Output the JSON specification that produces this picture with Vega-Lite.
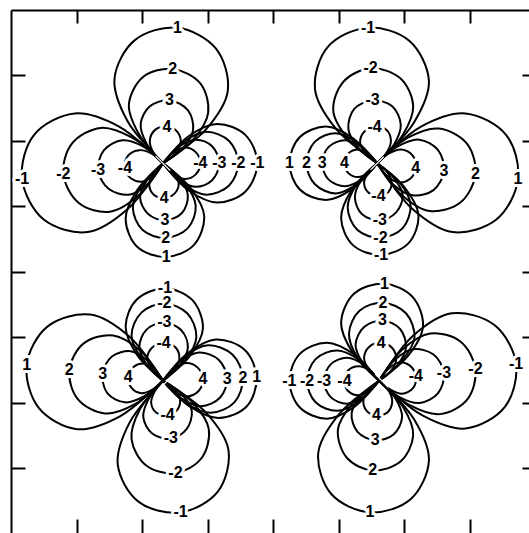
{
  "$schema": "https://vega.github.io/schema/vega-lite/v6.json",
  "width": 518,
  "height": 523,
  "autosize": {"type": "none"},
  "padding": {"left": 11, "top": 10, "right": 0, "bottom": 0},
  "background": "white",
  "config": {
    "view": {"stroke": null},
    "axis": {"grid": false, "labels": false, "title": null, "domainColor": "black", "domainWidth": 2, "tickColor": "black", "tickWidth": 2}
  },
  "data": {"values": [
    {"g":"1t1","i":0,"x":2.32,"y":5.66},{"g":"1t1","i":1,"x":1.78,"y":6.30},{"g":"1t1","i":2,"x":1.58,"y":6.95},{"g":"1t1","i":3,"x":1.89,"y":7.54},{"g":"1t1","i":4,"x":2.54,"y":7.73,"v":"1"},{"g":"1t1","i":5,"x":3.13,"y":7.41},{"g":"1t1","i":6,"x":3.31,"y":6.77},{"g":"1t1","i":7,"x":2.98,"y":6.18},{"g":"1t1","i":8,"x":2.32,"y":5.66},
    {"g":"1t2","i":0,"x":2.32,"y":5.66},{"g":"1t2","i":1,"x":1.95,"y":6.11},{"g":"1t2","i":2,"x":1.80,"y":6.56},{"g":"1t2","i":3,"x":2.02,"y":6.98},{"g":"1t2","i":4,"x":2.47,"y":7.10,"v":"2"},{"g":"1t2","i":5,"x":2.89,"y":6.88},{"g":"1t2","i":6,"x":3.01,"y":6.43},{"g":"1t2","i":7,"x":2.78,"y":6.02},{"g":"1t2","i":8,"x":2.32,"y":5.66},
    {"g":"1t3","i":0,"x":2.32,"y":5.66},{"g":"1t3","i":1,"x":2.07,"y":5.96},{"g":"1t3","i":2,"x":1.98,"y":6.26},{"g":"1t3","i":3,"x":2.12,"y":6.53},{"g":"1t3","i":4,"x":2.42,"y":6.62,"v":"3"},{"g":"1t3","i":5,"x":2.70,"y":6.47},{"g":"1t3","i":6,"x":2.78,"y":6.17},{"g":"1t3","i":7,"x":2.63,"y":5.90},{"g":"1t3","i":8,"x":2.32,"y":5.66},
    {"g":"1t4","i":0,"x":2.32,"y":5.66},{"g":"1t4","i":1,"x":2.17,"y":5.83},{"g":"1t4","i":2,"x":2.12,"y":6.01},{"g":"1t4","i":3,"x":2.20,"y":6.17},{"g":"1t4","i":4,"x":2.38,"y":6.22,"v":"4"},{"g":"1t4","i":5,"x":2.54,"y":6.14},{"g":"1t4","i":6,"x":2.59,"y":5.96},{"g":"1t4","i":7,"x":2.50,"y":5.80},{"g":"1t4","i":8,"x":2.32,"y":5.66},
    {"g":"1l1","i":0,"x":2.32,"y":5.66},{"g":"1l1","i":1,"x":1.79,"y":4.97},{"g":"1l1","i":2,"x":1.17,"y":4.61},{"g":"1l1","i":3,"x":0.50,"y":4.80},{"g":"1l1","i":4,"x":0.17,"y":5.42,"v":"-1"},{"g":"1l1","i":5,"x":0.35,"y":6.09},{"g":"1l1","i":6,"x":0.97,"y":6.42},{"g":"1l1","i":7,"x":1.65,"y":6.22},{"g":"1l1","i":8,"x":2.32,"y":5.66},
    {"g":"1l2","i":0,"x":2.32,"y":5.66},{"g":"1l2","i":1,"x":1.95,"y":5.17},{"g":"1l2","i":2,"x":1.51,"y":4.92},{"g":"1l2","i":3,"x":1.04,"y":5.05},{"g":"1l2","i":4,"x":0.80,"y":5.49,"v":"-2"},{"g":"1l2","i":5,"x":0.93,"y":5.96},{"g":"1l2","i":6,"x":1.37,"y":6.20},{"g":"1l2","i":7,"x":1.85,"y":6.05},{"g":"1l2","i":8,"x":2.32,"y":5.66},
    {"g":"1l3","i":0,"x":2.32,"y":5.66},{"g":"1l3","i":1,"x":2.08,"y":5.34},{"g":"1l3","i":2,"x":1.80,"y":5.18},{"g":"1l3","i":3,"x":1.49,"y":5.27},{"g":"1l3","i":4,"x":1.33,"y":5.55,"v":"-3"},{"g":"1l3","i":5,"x":1.42,"y":5.86},{"g":"1l3","i":6,"x":1.70,"y":6.01},{"g":"1l3","i":7,"x":2.01,"y":5.92},{"g":"1l3","i":8,"x":2.32,"y":5.66},
    {"g":"1l4","i":0,"x":2.32,"y":5.66},{"g":"1l4","i":1,"x":2.18,"y":5.48},{"g":"1l4","i":2,"x":2.01,"y":5.38},{"g":"1l4","i":3,"x":1.83,"y":5.43},{"g":"1l4","i":4,"x":1.74,"y":5.59,"v":"-4"},{"g":"1l4","i":5,"x":1.79,"y":5.78},{"g":"1l4","i":6,"x":1.96,"y":5.86},{"g":"1l4","i":7,"x":2.14,"y":5.81},{"g":"1l4","i":8,"x":2.32,"y":5.66},
    {"g":"1b1","i":0,"x":2.32,"y":5.66},{"g":"1b1","i":1,"x":2.75,"y":5.27},{"g":"1b1","i":2,"x":2.95,"y":4.85},{"g":"1b1","i":3,"x":2.79,"y":4.41},{"g":"1b1","i":4,"x":2.37,"y":4.23,"v":"1"},{"g":"1b1","i":5,"x":1.93,"y":4.38},{"g":"1b1","i":6,"x":1.75,"y":4.81},{"g":"1b1","i":7,"x":1.92,"y":5.24},{"g":"1b1","i":8,"x":2.32,"y":5.66},
    {"g":"1b2","i":0,"x":2.32,"y":5.66},{"g":"1b2","i":1,"x":2.66,"y":5.35},{"g":"1b2","i":2,"x":2.82,"y":5.01},{"g":"1b2","i":3,"x":2.70,"y":4.67},{"g":"1b2","i":4,"x":2.36,"y":4.52,"v":"2"},{"g":"1b2","i":5,"x":2.01,"y":4.64},{"g":"1b2","i":6,"x":1.86,"y":4.98},{"g":"1b2","i":7,"x":2.00,"y":5.33},{"g":"1b2","i":8,"x":2.32,"y":5.66},
    {"g":"1b3","i":0,"x":2.32,"y":5.66},{"g":"1b3","i":1,"x":2.58,"y":5.43},{"g":"1b3","i":2,"x":2.70,"y":5.17},{"g":"1b3","i":3,"x":2.61,"y":4.90},{"g":"1b3","i":4,"x":2.35,"y":4.79,"v":"3"},{"g":"1b3","i":5,"x":2.09,"y":4.89},{"g":"1b3","i":6,"x":1.97,"y":5.14},{"g":"1b3","i":7,"x":2.08,"y":5.41},{"g":"1b3","i":8,"x":2.32,"y":5.66},
    {"g":"1b4","i":0,"x":2.32,"y":5.66},{"g":"1b4","i":1,"x":2.48,"y":5.52},{"g":"1b4","i":2,"x":2.56,"y":5.36},{"g":"1b4","i":3,"x":2.50,"y":5.20},{"g":"1b4","i":4,"x":2.34,"y":5.13,"v":"4"},{"g":"1b4","i":5,"x":2.18,"y":5.18},{"g":"1b4","i":6,"x":2.11,"y":5.34},{"g":"1b4","i":7,"x":2.17,"y":5.50},{"g":"1b4","i":8,"x":2.32,"y":5.66},
    {"g":"1r1","i":0,"x":2.32,"y":5.66},{"g":"1r1","i":1,"x":2.72,"y":6.08},{"g":"1r1","i":2,"x":3.15,"y":6.26},{"g":"1r1","i":3,"x":3.58,"y":6.09},{"g":"1r1","i":4,"x":3.76,"y":5.66,"v":"-1"},{"g":"1r1","i":5,"x":3.58,"y":5.23},{"g":"1r1","i":6,"x":3.15,"y":5.06},{"g":"1r1","i":7,"x":2.72,"y":5.24},{"g":"1r1","i":8,"x":2.32,"y":5.66},
    {"g":"1r2","i":0,"x":2.32,"y":5.66},{"g":"1r2","i":1,"x":2.64,"y":5.99},{"g":"1r2","i":2,"x":2.98,"y":6.14},{"g":"1r2","i":3,"x":3.33,"y":6.00},{"g":"1r2","i":4,"x":3.47,"y":5.66,"v":"-2"},{"g":"1r2","i":5,"x":3.33,"y":5.32},{"g":"1r2","i":6,"x":2.98,"y":5.18},{"g":"1r2","i":7,"x":2.64,"y":5.33},{"g":"1r2","i":8,"x":2.32,"y":5.66},
    {"g":"1r3","i":0,"x":2.32,"y":5.66},{"g":"1r3","i":1,"x":2.56,"y":5.91},{"g":"1r3","i":2,"x":2.82,"y":6.02},{"g":"1r3","i":3,"x":3.07,"y":5.92},{"g":"1r3","i":4,"x":3.18,"y":5.66,"v":"-3"},{"g":"1r3","i":5,"x":3.07,"y":5.40},{"g":"1r3","i":6,"x":2.82,"y":5.30},{"g":"1r3","i":7,"x":2.56,"y":5.41},{"g":"1r3","i":8,"x":2.32,"y":5.66},
    {"g":"1r4","i":0,"x":2.32,"y":5.66},{"g":"1r4","i":1,"x":2.48,"y":5.82},{"g":"1r4","i":2,"x":2.65,"y":5.90},{"g":"1r4","i":3,"x":2.82,"y":5.83},{"g":"1r4","i":4,"x":2.89,"y":5.66,"v":"-4"},{"g":"1r4","i":5,"x":2.82,"y":5.49},{"g":"1r4","i":6,"x":2.65,"y":5.42},{"g":"1r4","i":7,"x":2.48,"y":5.50},{"g":"1r4","i":8,"x":2.32,"y":5.66},

    {"g":"2t1","i":0,"x":5.59,"y":5.66},{"g":"2t1","i":1,"x":4.95,"y":6.20},{"g":"2t1","i":2,"x":4.64,"y":6.80},{"g":"2t1","i":3,"x":4.84,"y":7.44},{"g":"2t1","i":4,"x":5.45,"y":7.73,"v":"-1"},{"g":"2t1","i":5,"x":6.08,"y":7.53},{"g":"2t1","i":6,"x":6.38,"y":6.92},{"g":"2t1","i":7,"x":6.15,"y":6.28},{"g":"2t1","i":8,"x":5.59,"y":5.66},
    {"g":"2t2","i":0,"x":5.59,"y":5.66},{"g":"2t2","i":1,"x":5.14,"y":6.04},{"g":"2t2","i":2,"x":4.92,"y":6.46},{"g":"2t2","i":3,"x":5.07,"y":6.90},{"g":"2t2","i":4,"x":5.49,"y":7.11,"v":"-2"},{"g":"2t2","i":5,"x":5.94,"y":6.96},{"g":"2t2","i":6,"x":6.14,"y":6.54},{"g":"2t2","i":7,"x":5.98,"y":6.09},{"g":"2t2","i":8,"x":5.59,"y":5.66},
    {"g":"2t3","i":0,"x":5.59,"y":5.66},{"g":"2t3","i":1,"x":5.29,"y":5.91},{"g":"2t3","i":2,"x":5.15,"y":6.19},{"g":"2t3","i":3,"x":5.24,"y":6.49},{"g":"2t3","i":4,"x":5.52,"y":6.62,"v":"-3"},{"g":"2t3","i":5,"x":5.82,"y":6.53},{"g":"2t3","i":6,"x":5.95,"y":6.25},{"g":"2t3","i":7,"x":5.85,"y":5.95},{"g":"2t3","i":8,"x":5.59,"y":5.66},
    {"g":"2t4","i":0,"x":5.59,"y":5.66},{"g":"2t4","i":1,"x":5.42,"y":5.81},{"g":"2t4","i":2,"x":5.33,"y":5.97},{"g":"2t4","i":3,"x":5.39,"y":6.14},{"g":"2t4","i":4,"x":5.55,"y":6.22,"v":"-4"},{"g":"2t4","i":5,"x":5.73,"y":6.17},{"g":"2t4","i":6,"x":5.80,"y":6.00},{"g":"2t4","i":7,"x":5.74,"y":5.83},{"g":"2t4","i":8,"x":5.59,"y":5.66},
    {"g":"2r1","i":0,"x":5.59,"y":5.66},{"g":"2r1","i":1,"x":6.26,"y":6.22},{"g":"2r1","i":2,"x":6.94,"y":6.42},{"g":"2r1","i":3,"x":7.56,"y":6.09},{"g":"2r1","i":4,"x":7.74,"y":5.42,"v":"1"},{"g":"2r1","i":5,"x":7.41,"y":4.80},{"g":"2r1","i":6,"x":6.74,"y":4.61},{"g":"2r1","i":7,"x":6.12,"y":4.97},{"g":"2r1","i":8,"x":5.59,"y":5.66},
    {"g":"2r2","i":0,"x":5.59,"y":5.66},{"g":"2r2","i":1,"x":6.06,"y":6.05},{"g":"2r2","i":2,"x":6.53,"y":6.19},{"g":"2r2","i":3,"x":6.96,"y":5.96},{"g":"2r2","i":4,"x":7.09,"y":5.49,"v":"2"},{"g":"2r2","i":5,"x":6.86,"y":5.06},{"g":"2r2","i":6,"x":6.39,"y":4.93},{"g":"2r2","i":7,"x":5.96,"y":5.18},{"g":"2r2","i":8,"x":5.59,"y":5.66},
    {"g":"2r3","i":0,"x":5.59,"y":5.66},{"g":"2r3","i":1,"x":5.91,"y":5.92},{"g":"2r3","i":2,"x":6.23,"y":6.02},{"g":"2r3","i":3,"x":6.52,"y":5.86},{"g":"2r3","i":4,"x":6.61,"y":5.54,"v":"3"},{"g":"2r3","i":5,"x":6.45,"y":5.25},{"g":"2r3","i":6,"x":6.13,"y":5.17},{"g":"2r3","i":7,"x":5.84,"y":5.33},{"g":"2r3","i":8,"x":5.59,"y":5.66},
    {"g":"2r4","i":0,"x":5.59,"y":5.66},{"g":"2r4","i":1,"x":5.77,"y":5.81},{"g":"2r4","i":2,"x":5.96,"y":5.87},{"g":"2r4","i":3,"x":6.13,"y":5.78},{"g":"2r4","i":4,"x":6.18,"y":5.59,"v":"4"},{"g":"2r4","i":5,"x":6.09,"y":5.42},{"g":"2r4","i":6,"x":5.91,"y":5.37},{"g":"2r4","i":7,"x":5.74,"y":5.47},{"g":"2r4","i":8,"x":5.59,"y":5.66},
    {"g":"2l1","i":0,"x":5.59,"y":5.66},{"g":"2l1","i":1,"x":5.21,"y":5.27},{"g":"2l1","i":2,"x":4.81,"y":5.10},{"g":"2l1","i":3,"x":4.41,"y":5.26},{"g":"2l1","i":4,"x":4.25,"y":5.66,"v":"1"},{"g":"2l1","i":5,"x":4.41,"y":6.06},{"g":"2l1","i":6,"x":4.81,"y":6.22},{"g":"2l1","i":7,"x":5.21,"y":6.05},{"g":"2l1","i":8,"x":5.59,"y":5.66},
    {"g":"2l2","i":0,"x":5.59,"y":5.66},{"g":"2l2","i":1,"x":5.29,"y":5.35},{"g":"2l2","i":2,"x":4.96,"y":5.20},{"g":"2l2","i":3,"x":4.64,"y":5.34},{"g":"2l2","i":4,"x":4.51,"y":5.66,"v":"2"},{"g":"2l2","i":5,"x":4.64,"y":5.99},{"g":"2l2","i":6,"x":4.96,"y":6.12},{"g":"2l2","i":7,"x":5.29,"y":5.97},{"g":"2l2","i":8,"x":5.59,"y":5.66},
    {"g":"2l3","i":0,"x":5.59,"y":5.66},{"g":"2l3","i":1,"x":5.36,"y":5.42},{"g":"2l3","i":2,"x":5.10,"y":5.31},{"g":"2l3","i":3,"x":4.85,"y":5.41},{"g":"2l3","i":4,"x":4.75,"y":5.66,"v":"3"},{"g":"2l3","i":5,"x":4.85,"y":5.91},{"g":"2l3","i":6,"x":5.10,"y":6.01},{"g":"2l3","i":7,"x":5.36,"y":5.90},{"g":"2l3","i":8,"x":5.59,"y":5.66},
    {"g":"2l4","i":0,"x":5.59,"y":5.66},{"g":"2l4","i":1,"x":5.45,"y":5.51},{"g":"2l4","i":2,"x":5.30,"y":5.45},{"g":"2l4","i":3,"x":5.15,"y":5.51},{"g":"2l4","i":4,"x":5.09,"y":5.66,"v":"4"},{"g":"2l4","i":5,"x":5.15,"y":5.81},{"g":"2l4","i":6,"x":5.30,"y":5.87},{"g":"2l4","i":7,"x":5.45,"y":5.81},{"g":"2l4","i":8,"x":5.59,"y":5.66},
    {"g":"2b1","i":0,"x":5.59,"y":5.66},{"g":"2b1","i":1,"x":6.01,"y":5.29},{"g":"2b1","i":2,"x":6.22,"y":4.87},{"g":"2b1","i":3,"x":6.07,"y":4.44},{"g":"2b1","i":4,"x":5.65,"y":4.26,"v":"-1"},{"g":"2b1","i":5,"x":5.22,"y":4.41},{"g":"2b1","i":6,"x":5.04,"y":4.82},{"g":"2b1","i":7,"x":5.20,"y":5.25},{"g":"2b1","i":8,"x":5.59,"y":5.66},
    {"g":"2b2","i":0,"x":5.59,"y":5.66},{"g":"2b2","i":1,"x":5.94,"y":5.36},{"g":"2b2","i":2,"x":6.10,"y":5.02},{"g":"2b2","i":3,"x":5.98,"y":4.67},{"g":"2b2","i":4,"x":5.64,"y":4.52,"v":"-2"},{"g":"2b2","i":5,"x":5.29,"y":4.64},{"g":"2b2","i":6,"x":5.14,"y":4.98},{"g":"2b2","i":7,"x":5.27,"y":5.33},{"g":"2b2","i":8,"x":5.59,"y":5.66},
    {"g":"2b3","i":0,"x":5.59,"y":5.66},{"g":"2b3","i":1,"x":5.85,"y":5.43},{"g":"2b3","i":2,"x":5.98,"y":5.17},{"g":"2b3","i":3,"x":5.88,"y":4.91},{"g":"2b3","i":4,"x":5.63,"y":4.79,"v":"-3"},{"g":"2b3","i":5,"x":5.36,"y":4.88},{"g":"2b3","i":6,"x":5.25,"y":5.14},{"g":"2b3","i":7,"x":5.35,"y":5.41},{"g":"2b3","i":8,"x":5.59,"y":5.66},
    {"g":"2b4","i":0,"x":5.59,"y":5.66},{"g":"2b4","i":1,"x":5.74,"y":5.53},{"g":"2b4","i":2,"x":5.81,"y":5.38},{"g":"2b4","i":3,"x":5.76,"y":5.22},{"g":"2b4","i":4,"x":5.61,"y":5.16,"v":"-4"},{"g":"2b4","i":5,"x":5.46,"y":5.21},{"g":"2b4","i":6,"x":5.39,"y":5.36},{"g":"2b4","i":7,"x":5.45,"y":5.51},{"g":"2b4","i":8,"x":5.59,"y":5.66},

    {"g":"3t1","i":0,"x":2.32,"y":2.34},{"g":"3t1","i":1,"x":1.92,"y":2.74},{"g":"3t1","i":2,"x":1.75,"y":3.17},{"g":"3t1","i":3,"x":1.92,"y":3.58},{"g":"3t1","i":4,"x":2.35,"y":3.75,"v":"-1"},{"g":"3t1","i":5,"x":2.77,"y":3.57},{"g":"3t1","i":6,"x":2.93,"y":3.14},{"g":"3t1","i":7,"x":2.74,"y":2.73},{"g":"3t1","i":8,"x":2.32,"y":2.34},
    {"g":"3t2","i":0,"x":2.32,"y":2.34},{"g":"3t2","i":1,"x":1.99,"y":2.68},{"g":"3t2","i":2,"x":1.84,"y":3.03},{"g":"3t2","i":3,"x":1.99,"y":3.38},{"g":"3t2","i":4,"x":2.34,"y":3.52,"v":"-2"},{"g":"3t2","i":5,"x":2.69,"y":3.37},{"g":"3t2","i":6,"x":2.83,"y":3.01},{"g":"3t2","i":7,"x":2.67,"y":2.66},{"g":"3t2","i":8,"x":2.32,"y":2.34},
    {"g":"3t3","i":0,"x":2.32,"y":2.34},{"g":"3t3","i":1,"x":2.07,"y":2.59},{"g":"3t3","i":2,"x":1.96,"y":2.86},{"g":"3t3","i":3,"x":2.07,"y":3.12},{"g":"3t3","i":4,"x":2.34,"y":3.23,"v":"-3"},{"g":"3t3","i":5,"x":2.60,"y":3.11},{"g":"3t3","i":6,"x":2.70,"y":2.85},{"g":"3t3","i":7,"x":2.58,"y":2.58},{"g":"3t3","i":8,"x":2.32,"y":2.34},
    {"g":"3t4","i":0,"x":2.32,"y":2.34},{"g":"3t4","i":1,"x":2.16,"y":2.51},{"g":"3t4","i":2,"x":2.08,"y":2.68},{"g":"3t4","i":3,"x":2.16,"y":2.85},{"g":"3t4","i":4,"x":2.33,"y":2.92,"v":"-4"},{"g":"3t4","i":5,"x":2.51,"y":2.85},{"g":"3t4","i":6,"x":2.57,"y":2.67},{"g":"3t4","i":7,"x":2.49,"y":2.50},{"g":"3t4","i":8,"x":2.32,"y":2.34},
    {"g":"3l1","i":0,"x":2.32,"y":2.34},{"g":"3l1","i":1,"x":1.67,"y":1.80},{"g":"3l1","i":2,"x":1.01,"y":1.60},{"g":"3l1","i":3,"x":0.42,"y":1.93},{"g":"3l1","i":4,"x":0.24,"y":2.58,"v":"1"},{"g":"3l1","i":5,"x":0.56,"y":3.17},{"g":"3l1","i":6,"x":1.21,"y":3.35},{"g":"3l1","i":7,"x":1.81,"y":3.01},{"g":"3l1","i":8,"x":2.32,"y":2.34},
    {"g":"3l2","i":0,"x":2.32,"y":2.34},{"g":"3l2","i":1,"x":1.87,"y":1.97},{"g":"3l2","i":2,"x":1.43,"y":1.84},{"g":"3l2","i":3,"x":1.02,"y":2.06},{"g":"3l2","i":4,"x":0.89,"y":2.50,"v":"2"},{"g":"3l2","i":5,"x":1.11,"y":2.91},{"g":"3l2","i":6,"x":1.56,"y":3.03},{"g":"3l2","i":7,"x":1.97,"y":2.80},{"g":"3l2","i":8,"x":2.32,"y":2.34},
    {"g":"3l3","i":0,"x":2.32,"y":2.34},{"g":"3l3","i":1,"x":2.03,"y":2.10},{"g":"3l3","i":2,"x":1.74,"y":2.01},{"g":"3l3","i":3,"x":1.47,"y":2.15},{"g":"3l3","i":4,"x":1.40,"y":2.45,"v":"3"},{"g":"3l3","i":5,"x":1.54,"y":2.71},{"g":"3l3","i":6,"x":1.83,"y":2.79},{"g":"3l3","i":7,"x":2.09,"y":2.64},{"g":"3l3","i":8,"x":2.32,"y":2.34},
    {"g":"3l4","i":0,"x":2.32,"y":2.34},{"g":"3l4","i":1,"x":2.15,"y":2.20},{"g":"3l4","i":2,"x":1.99,"y":2.15},{"g":"3l4","i":3,"x":1.84,"y":2.23},{"g":"3l4","i":4,"x":1.79,"y":2.40,"v":"4"},{"g":"3l4","i":5,"x":1.87,"y":2.55},{"g":"3l4","i":6,"x":2.04,"y":2.60},{"g":"3l4","i":7,"x":2.19,"y":2.51},{"g":"3l4","i":8,"x":2.32,"y":2.34},
    {"g":"3r1","i":0,"x":2.32,"y":2.34},{"g":"3r1","i":1,"x":2.71,"y":2.77},{"g":"3r1","i":2,"x":3.13,"y":2.97},{"g":"3r1","i":3,"x":3.57,"y":2.81},{"g":"3r1","i":4,"x":3.75,"y":2.39,"v":"1"},{"g":"3r1","i":5,"x":3.60,"y":1.95},{"g":"3r1","i":6,"x":3.17,"y":1.77},{"g":"3r1","i":7,"x":2.74,"y":1.94},{"g":"3r1","i":8,"x":2.32,"y":2.34},
    {"g":"3r2","i":0,"x":2.32,"y":2.34},{"g":"3r2","i":1,"x":2.65,"y":2.71},{"g":"3r2","i":2,"x":3.01,"y":2.88},{"g":"3r2","i":3,"x":3.38,"y":2.74},{"g":"3r2","i":4,"x":3.54,"y":2.38,"v":"2"},{"g":"3r2","i":5,"x":3.41,"y":2.01},{"g":"3r2","i":6,"x":3.05,"y":1.85},{"g":"3r2","i":7,"x":2.67,"y":2.00},{"g":"3r2","i":8,"x":2.32,"y":2.34},
    {"g":"3r3","i":0,"x":2.32,"y":2.34},{"g":"3r3","i":1,"x":2.58,"y":2.63},{"g":"3r3","i":2,"x":2.87,"y":2.77},{"g":"3r3","i":3,"x":3.17,"y":2.66},{"g":"3r3","i":4,"x":3.30,"y":2.37,"v":"3"},{"g":"3r3","i":5,"x":3.19,"y":2.08},{"g":"3r3","i":6,"x":2.90,"y":1.95},{"g":"3r3","i":7,"x":2.60,"y":2.07},{"g":"3r3","i":8,"x":2.32,"y":2.34},
    {"g":"3r4","i":0,"x":2.32,"y":2.34},{"g":"3r4","i":1,"x":2.49,"y":2.52},{"g":"3r4","i":2,"x":2.67,"y":2.61},{"g":"3r4","i":3,"x":2.85,"y":2.54},{"g":"3r4","i":4,"x":2.93,"y":2.36,"v":"4"},{"g":"3r4","i":5,"x":2.86,"y":2.18},{"g":"3r4","i":6,"x":2.68,"y":2.10},{"g":"3r4","i":7,"x":2.50,"y":2.17},{"g":"3r4","i":8,"x":2.32,"y":2.34},
    {"g":"3b1","i":0,"x":2.32,"y":2.34},{"g":"3b1","i":1,"x":2.98,"y":1.85},{"g":"3b1","i":2,"x":3.32,"y":1.28},{"g":"3b1","i":3,"x":3.16,"y":0.65},{"g":"3b1","i":4,"x":2.59,"y":0.33,"v":"-1"},{"g":"3b1","i":5,"x":1.95,"y":0.49},{"g":"3b1","i":6,"x":1.63,"y":1.06},{"g":"3b1","i":7,"x":1.81,"y":1.70},{"g":"3b1","i":8,"x":2.32,"y":2.34},
    {"g":"3b2","i":0,"x":2.32,"y":2.34},{"g":"3b2","i":1,"x":2.78,"y":2.00},{"g":"3b2","i":2,"x":3.02,"y":1.60},{"g":"3b2","i":3,"x":2.91,"y":1.16},{"g":"3b2","i":4,"x":2.51,"y":0.93,"v":"-2"},{"g":"3b2","i":5,"x":2.06,"y":1.05},{"g":"3b2","i":6,"x":1.84,"y":1.45},{"g":"3b2","i":7,"x":1.96,"y":1.89},{"g":"3b2","i":8,"x":2.32,"y":2.34},
    {"g":"3b3","i":0,"x":2.32,"y":2.34},{"g":"3b3","i":1,"x":2.61,"y":2.13},{"g":"3b3","i":2,"x":2.76,"y":1.88},{"g":"3b3","i":3,"x":2.68,"y":1.60},{"g":"3b3","i":4,"x":2.44,"y":1.46,"v":"-3"},{"g":"3b3","i":5,"x":2.16,"y":1.53},{"g":"3b3","i":6,"x":2.02,"y":1.78},{"g":"3b3","i":7,"x":2.10,"y":2.06},{"g":"3b3","i":8,"x":2.32,"y":2.34},
    {"g":"3b4","i":0,"x":2.32,"y":2.34},{"g":"3b4","i":1,"x":2.49,"y":2.21},{"g":"3b4","i":2,"x":2.58,"y":2.06},{"g":"3b4","i":3,"x":2.54,"y":1.90},{"g":"3b4","i":4,"x":2.39,"y":1.81,"v":"-4"},{"g":"3b4","i":5,"x":2.22,"y":1.85},{"g":"3b4","i":6,"x":2.14,"y":2.00},{"g":"3b4","i":7,"x":2.19,"y":2.17},{"g":"3b4","i":8,"x":2.32,"y":2.34},

    {"g":"4t1","i":0,"x":5.62,"y":2.34},{"g":"4t1","i":1,"x":5.21,"y":2.78},{"g":"4t1","i":2,"x":5.04,"y":3.23},{"g":"4t1","i":3,"x":5.24,"y":3.67},{"g":"4t1","i":4,"x":5.70,"y":3.82,"v":"1"},{"g":"4t1","i":5,"x":6.13,"y":3.62},{"g":"4t1","i":6,"x":6.29,"y":3.17},{"g":"4t1","i":7,"x":6.07,"y":2.73},{"g":"4t1","i":8,"x":5.62,"y":2.34},
    {"g":"4t2","i":0,"x":5.62,"y":2.34},{"g":"4t2","i":1,"x":5.29,"y":2.69},{"g":"4t2","i":2,"x":5.16,"y":3.06},{"g":"4t2","i":3,"x":5.32,"y":3.41},{"g":"4t2","i":4,"x":5.68,"y":3.53,"v":"2"},{"g":"4t2","i":5,"x":6.03,"y":3.37},{"g":"4t2","i":6,"x":6.16,"y":3.00},{"g":"4t2","i":7,"x":5.98,"y":2.66},{"g":"4t2","i":8,"x":5.62,"y":2.34},
    {"g":"4t3","i":0,"x":5.62,"y":2.34},{"g":"4t3","i":1,"x":5.37,"y":2.61},{"g":"4t3","i":2,"x":5.26,"y":2.89},{"g":"4t3","i":3,"x":5.39,"y":3.16},{"g":"4t3","i":4,"x":5.67,"y":3.26,"v":"3"},{"g":"4t3","i":5,"x":5.94,"y":3.13},{"g":"4t3","i":6,"x":6.03,"y":2.85},{"g":"4t3","i":7,"x":5.90,"y":2.58},{"g":"4t3","i":8,"x":5.62,"y":2.34},
    {"g":"4t4","i":0,"x":5.62,"y":2.34},{"g":"4t4","i":1,"x":5.46,"y":2.51},{"g":"4t4","i":2,"x":5.39,"y":2.69},{"g":"4t4","i":3,"x":5.47,"y":2.86},{"g":"4t4","i":4,"x":5.65,"y":2.92,"v":"4"},{"g":"4t4","i":5,"x":5.82,"y":2.84},{"g":"4t4","i":6,"x":5.88,"y":2.66},{"g":"4t4","i":7,"x":5.80,"y":2.49},{"g":"4t4","i":8,"x":5.62,"y":2.34},
    {"g":"4l1","i":0,"x":5.62,"y":2.34},{"g":"4l1","i":1,"x":5.24,"y":1.94},{"g":"4l1","i":2,"x":4.82,"y":1.76},{"g":"4l1","i":3,"x":4.41,"y":1.93},{"g":"4l1","i":4,"x":4.25,"y":2.34,"v":"-1"},{"g":"4l1","i":5,"x":4.41,"y":2.75},{"g":"4l1","i":6,"x":4.82,"y":2.92},{"g":"4l1","i":7,"x":5.24,"y":2.74},{"g":"4l1","i":8,"x":5.62,"y":2.34},
    {"g":"4l2","i":0,"x":5.62,"y":2.34},{"g":"4l2","i":1,"x":5.31,"y":2.02},{"g":"4l2","i":2,"x":4.98,"y":1.88},{"g":"4l2","i":3,"x":4.65,"y":2.01},{"g":"4l2","i":4,"x":4.52,"y":2.34,"v":"-2"},{"g":"4l2","i":5,"x":4.65,"y":2.67},{"g":"4l2","i":6,"x":4.98,"y":2.80},{"g":"4l2","i":7,"x":5.31,"y":2.66},{"g":"4l2","i":8,"x":5.62,"y":2.34},
    {"g":"4l3","i":0,"x":5.62,"y":2.34},{"g":"4l3","i":1,"x":5.39,"y":2.10},{"g":"4l3","i":2,"x":5.13,"y":1.99},{"g":"4l3","i":3,"x":4.88,"y":2.09},{"g":"4l3","i":4,"x":4.78,"y":2.34,"v":"-3"},{"g":"4l3","i":5,"x":4.88,"y":2.59},{"g":"4l3","i":6,"x":5.13,"y":2.69},{"g":"4l3","i":7,"x":5.39,"y":2.58},{"g":"4l3","i":8,"x":5.62,"y":2.34},
    {"g":"4l4","i":0,"x":5.62,"y":2.34},{"g":"4l4","i":1,"x":5.47,"y":2.19},{"g":"4l4","i":2,"x":5.31,"y":2.12},{"g":"4l4","i":3,"x":5.15,"y":2.18},{"g":"4l4","i":4,"x":5.09,"y":2.34,"v":"-4"},{"g":"4l4","i":5,"x":5.15,"y":2.50},{"g":"4l4","i":6,"x":5.31,"y":2.56},{"g":"4l4","i":7,"x":5.47,"y":2.50},{"g":"4l4","i":8,"x":5.62,"y":2.34},
    {"g":"4r1","i":0,"x":5.62,"y":2.34},{"g":"4r1","i":1,"x":6.13,"y":3.02},{"g":"4r1","i":2,"x":6.73,"y":3.37},{"g":"4r1","i":3,"x":7.38,"y":3.19},{"g":"4r1","i":4,"x":7.71,"y":2.60,"v":"-1"},{"g":"4r1","i":5,"x":7.54,"y":1.94},{"g":"4r1","i":6,"x":6.94,"y":1.61},{"g":"4r1","i":7,"x":6.28,"y":1.81},{"g":"4r1","i":8,"x":5.62,"y":2.34},
    {"g":"4r2","i":0,"x":5.62,"y":2.34},{"g":"4r2","i":1,"x":5.98,"y":2.82},{"g":"4r2","i":2,"x":6.40,"y":3.06},{"g":"4r2","i":3,"x":6.86,"y":2.94},{"g":"4r2","i":4,"x":7.09,"y":2.52,"v":"-2"},{"g":"4r2","i":5,"x":6.97,"y":2.06},{"g":"4r2","i":6,"x":6.55,"y":1.83},{"g":"4r2","i":7,"x":6.08,"y":1.97},{"g":"4r2","i":8,"x":5.62,"y":2.34},
    {"g":"4r3","i":0,"x":5.62,"y":2.34},{"g":"4r3","i":1,"x":5.86,"y":2.66},{"g":"4r3","i":2,"x":6.14,"y":2.82},{"g":"4r3","i":3,"x":6.45,"y":2.74},{"g":"4r3","i":4,"x":6.61,"y":2.46,"v":"-3"},{"g":"4r3","i":5,"x":6.52,"y":2.15},{"g":"4r3","i":6,"x":6.24,"y":2.00},{"g":"4r3","i":7,"x":5.93,"y":2.09},{"g":"4r3","i":8,"x":5.62,"y":2.34},
    {"g":"4r4","i":0,"x":5.62,"y":2.34},{"g":"4r4","i":1,"x":5.76,"y":2.52},{"g":"4r4","i":2,"x":5.92,"y":2.62},{"g":"4r4","i":3,"x":6.09,"y":2.57},{"g":"4r4","i":4,"x":6.18,"y":2.41,"v":"-4"},{"g":"4r4","i":5,"x":6.14,"y":2.23},{"g":"4r4","i":6,"x":5.97,"y":2.14},{"g":"4r4","i":7,"x":5.80,"y":2.20},{"g":"4r4","i":8,"x":5.62,"y":2.34},
    {"g":"4b1","i":0,"x":5.62,"y":2.34},{"g":"4b1","i":1,"x":6.16,"y":1.74},{"g":"4b1","i":2,"x":6.38,"y":1.12},{"g":"4b1","i":3,"x":6.10,"y":0.53},{"g":"4b1","i":4,"x":5.48,"y":0.33,"v":"1"},{"g":"4b1","i":5,"x":4.89,"y":0.61},{"g":"4b1","i":6,"x":4.69,"y":1.23},{"g":"4b1","i":7,"x":5.00,"y":1.82},{"g":"4b1","i":8,"x":5.62,"y":2.34},
    {"g":"4b2","i":0,"x":5.62,"y":2.34},{"g":"4b2","i":1,"x":5.99,"y":1.93},{"g":"4b2","i":2,"x":6.14,"y":1.51},{"g":"4b2","i":3,"x":5.95,"y":1.11},{"g":"4b2","i":4,"x":5.52,"y":0.97,"v":"2"},{"g":"4b2","i":5,"x":5.13,"y":1.16},{"g":"4b2","i":6,"x":4.99,"y":1.59},{"g":"4b2","i":7,"x":5.20,"y":1.98},{"g":"4b2","i":8,"x":5.62,"y":2.34},
    {"g":"4b3","i":0,"x":5.62,"y":2.34},{"g":"4b3","i":1,"x":5.87,"y":2.07},{"g":"4b3","i":2,"x":5.97,"y":1.78},{"g":"4b3","i":3,"x":5.84,"y":1.52},{"g":"4b3","i":4,"x":5.56,"y":1.43,"v":"3"},{"g":"4b3","i":5,"x":5.29,"y":1.56},{"g":"4b3","i":6,"x":5.20,"y":1.84},{"g":"4b3","i":7,"x":5.34,"y":2.10},{"g":"4b3","i":8,"x":5.62,"y":2.34},
    {"g":"4b4","i":0,"x":5.62,"y":2.34},{"g":"4b4","i":1,"x":5.77,"y":2.18},{"g":"4b4","i":2,"x":5.82,"y":2.02},{"g":"4b4","i":3,"x":5.75,"y":1.86},{"g":"4b4","i":4,"x":5.58,"y":1.81,"v":"4"},{"g":"4b4","i":5,"x":5.43,"y":1.88},{"g":"4b4","i":6,"x":5.38,"y":2.05},{"g":"4b4","i":7,"x":5.46,"y":2.20},{"g":"4b4","i":8,"x":5.62,"y":2.34}
  ]},
  "layer": [
    {
      "mark": {"type": "line", "interpolate": "catmull-rom", "stroke": "black", "strokeWidth": 2, "clip": true},
      "encoding": {
        "x": {"field": "x", "type": "quantitative", "scale": {"domain": [0, 7.908], "nice": false, "zero": false},
              "axis": {"orient": "top", "values": [1, 2, 3, 4, 5, 6, 7], "tickSize": -13, "domain": true}},
        "y": {"field": "y", "type": "quantitative", "scale": {"domain": [0.015, 8], "nice": false, "zero": false},
              "axis": {"orient": "left", "values": [1, 2, 3, 4, 5, 6, 7], "tickSize": -14, "domain": true}},
        "detail": {"field": "g"},
        "order": {"field": "i"}
      }
    },
    {
      "data": {"values": [
        {"s": "1", "i": 0, "x": 2.21, "y": 5.77}, {"s": "1", "i": 1, "x": 2.43, "y": 5.55},
        {"s": "2", "i": 0, "x": 5.49, "y": 5.56}, {"s": "2", "i": 1, "x": 5.69, "y": 5.76},
        {"s": "3", "i": 0, "x": 2.27, "y": 2.22}, {"s": "3", "i": 1, "x": 2.47, "y": 2.42},
        {"s": "4", "i": 0, "x": 5.56, "y": 2.44}, {"s": "4", "i": 1, "x": 5.76, "y": 2.24}
      ]},
      "mark": {"type": "line", "stroke": "white", "strokeWidth": 1.2},
      "encoding": {
        "x": {"field": "x", "type": "quantitative", "axis": null},
        "y": {"field": "y", "type": "quantitative", "axis": null},
        "detail": {"field": "s"},
        "order": {"field": "i"}
      }
    },
    {
      "transform": [{"filter": "isValid(datum.v)"}],
      "mark": {"type": "text", "font": "Liberation Sans", "fontSize": 16, "fontWeight": "bold", "fill": "white", "stroke": "white", "strokeWidth": 6, "strokeJoin": "round"},
      "encoding": {
        "x": {"field": "x", "type": "quantitative", "axis": {"orient": "bottom", "values": [1, 2, 3, 4, 5, 6, 7], "tickSize": -14, "domain": false}},
        "y": {"field": "y", "type": "quantitative", "axis": {"orient": "right", "values": [1, 2, 3, 4, 5, 6, 7], "tickSize": -7, "domain": false}},
        "text": {"field": "v"}
      }
    },
    {
      "transform": [{"filter": "isValid(datum.v)"}],
      "mark": {"type": "text", "font": "Liberation Sans", "fontSize": 16, "fontWeight": "bold", "fill": "black"},
      "encoding": {
        "x": {"field": "x", "type": "quantitative", "axis": null},
        "y": {"field": "y", "type": "quantitative", "axis": null},
        "text": {"field": "v"}
      }
    }
  ],
  "resolve": {"axis": {"x": "independent", "y": "independent"}}
}
